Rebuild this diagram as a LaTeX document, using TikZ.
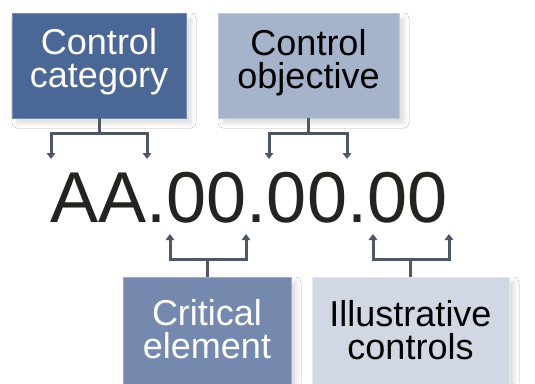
\documentclass[tikz,border=0pt]{standalone}
\usepackage{fontspec}
\setmainfont{Liberation Sans}
\usetikzlibrary{arrows.meta,shadows.blur}

\definecolor{catblue}{HTML}{4A6795}
\definecolor{objblue}{HTML}{A5B3CB}
\definecolor{critblue}{HTML}{7489AD}
\definecolor{illblue}{HTML}{D1D7E3}
\definecolor{linkgray}{HTML}{4F5765}
\definecolor{codeink}{HTML}{22241F}

\tikzset{
  panel/.style={rectangle, inner sep=0pt, line width=0.8pt,
    blur shadow={shadow xshift=5pt, shadow yshift=-5pt,
      shadow blur radius=5pt, shadow opacity=14}},
  % anchored at the baseline of the lower line
  paneltext/.style={align=center, inner sep=0pt, anchor=base,
    font=\fontsize{36}{33}\selectfont},
  link/.style={draw=linkgray, line width=3pt},
  linkarrow/.style={link, -{Triangle[width=8.5pt,length=6pt]}},
}

\begin{document}
\begin{tikzpicture}[x=1pt, y=-1pt]
  \fill[white] (0,0) rectangle (535,383);
  \useasboundingbox (0,0) rectangle (535,383);
  \clip (0,0) rectangle (535,383);

  % upper panels
  \node[panel, fill=catblue, draw=catblue!75!white,
        minimum width=174pt, minimum height=105pt] (cat) at (99,65.5) {};
  \node[paneltext, text=white] (catlbl) at (99,87) {Control\\category};

  \node[panel, fill=objblue, draw=objblue!70!white,
        minimum width=181pt, minimum height=105pt] (obj) at (308.5,65.5) {};
  \node[paneltext, text=black] (objlbl) at (308.5,88) {Control\\objective};

  % lower panels (running past the bottom edge)
  \node[panel, fill=critblue, draw=critblue!70!white,
        minimum width=168pt, minimum height=130pt] (crit) at (207,342) {};
  \node[paneltext, text=white] (critlbl) at (207,358) {Critical\\element};

  \node[panel, fill=illblue, draw=illblue!60!white,
        minimum width=197pt, minimum height=130pt] (ill) at (410.5,342) {};
  \node[paneltext, text=black] (illlbl) at (410.5,359) {Illustrative\\controls};

  % the identifier
  \node[inner sep=0pt, anchor=base, text=codeink,
        font=\fontsize{72}{72}\selectfont] (code) at (249,222) {AA.00.00.00};

  % branch points and arrow ends
  \coordinate (catj) at (99,133);
  \coordinate (cat1) at (51,159);
  \coordinate (cat2) at (147,159);
  \coordinate (objj) at (308.5,133);
  \coordinate (obj1) at (269,159);
  \coordinate (obj2) at (347,159);
  \coordinate (critj) at (207,259);
  \coordinate (crit1) at (170,234);
  \coordinate (crit2) at (246,234);
  \coordinate (illj) at (410.5,259);
  \coordinate (ill1) at (373,234);
  \coordinate (ill2) at (449,234);

  % connectors
  \draw[link] (cat.south) -- (catj);
  \draw[linkarrow] (catj) -| (cat1);
  \draw[linkarrow] (catj) -| (cat2);

  \draw[link] (obj.south) -- (objj);
  \draw[linkarrow] (objj) -| (obj1);
  \draw[linkarrow] (objj) -| (obj2);

  \draw[link] (crit.north) -- (critj);
  \draw[linkarrow] (critj) -| (crit1);
  \draw[linkarrow] (critj) -| (crit2);

  \draw[link] (ill.north) -- (illj);
  \draw[linkarrow] (illj) -| (ill1);
  \draw[linkarrow] (illj) -| (ill2);
\end{tikzpicture}
\end{document}
